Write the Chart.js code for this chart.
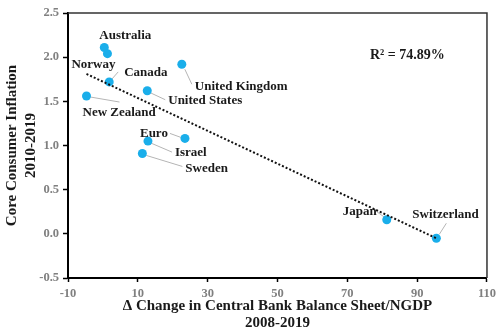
<!DOCTYPE html>
<html>
<head>
<meta charset="utf-8">
<script src="https://cdn.jsdelivr.net/npm/chart.js@4"></script>
<style>
    html, body { margin: 0; padding: 0; background: #fff; }
</style>
</head>
<body>
<canvas id="chart" width="500" height="332"></canvas>
<script>
// Balance-sheet growth vs. core inflation scatter with a linear trend

const COUNTRIES = ["Australia", "Norway", "Canada", "New Zealand", "United States",
    "United Kingdom", "Euro", "Israel", "Sweden", "Japan", "Switzerland"];
const BS_CHANGE = [0.4, 1.3, 1.8, -4.7, 12.7, 22.6, 23.5, 12.9, 11.3, 81.3, 95.5];
const CORE_INFL = [2.11, 2.04, 1.72, 1.56, 1.62, 1.92, 1.08, 1.05, 0.91, 0.16, -0.05];

// fitted line end points
const TREND_X = [-4.7, 95.5];
const TREND_Y = [1.81, -0.05];

const X_TICKS = [-10, 10, 30, 50, 70, 90, 110];
const Y_TICKS = [-0.5, 0.0, 0.5, 1.0, 1.5, 2.0, 2.5];

const R2_TEXT = "R\u00B2 = 74.89%";
const R2_AT = { x: 76.5, y: 2.02 };

// label placement in px relative to each point: [dx, dy] of text left/middle
const LABEL_OFFSET = [
    [-5, -12], [-36, 11], [15, -9], [-4, 17], [21, 10],
    [13, 22], [-45, -5], [27, 12], [43, 15], [-44, -8], [-24, -24]
];
// leader lines in px relative to each point, null = none
const LEADER = [
    null, null, [2, -2, 9, -10], [4, 1, 33, 6], [3, 2, 18, 9],
    [3, 5, 10, 20], [-4, -1, -15, -5], [3, 2, 24, 11], [4, 2, 40, 13],
    [-3, -3, -10, -8], [3, -4, 10, -15]
];

const SERIF = "'Liberation Serif', 'DejaVu Serif', serif";
const DOT_BLUE = "#1aaeea";

const overlay = {
    id: "overlay",
    beforeDatasetsDraw(chart) {
        const { ctx, chartArea: a, scales: { x, y } } = chart;
        ctx.save();
        // top and right frame edges
        ctx.strokeStyle = "#333";
        ctx.lineWidth = 1.5;
        ctx.beginPath();
        ctx.moveTo(a.left, a.top);
        ctx.lineTo(a.right, a.top);
        ctx.lineTo(a.right, a.bottom);
        ctx.stroke();
        // leader lines
        ctx.strokeStyle = "#b5b5b5";
        ctx.lineWidth = 1;
        LEADER.forEach((l, i) => {
            if (!l) return;
            const px = x.getPixelForValue(BS_CHANGE[i]);
            const py = y.getPixelForValue(CORE_INFL[i]);
            ctx.beginPath();
            ctx.moveTo(px + l[0], py + l[1]);
            ctx.lineTo(px + l[2], py + l[3]);
            ctx.stroke();
        });
        ctx.restore();
    },
    afterDatasetsDraw(chart) {
        const { ctx, scales: { x, y } } = chart;
        ctx.save();
        ctx.fillStyle = "#1a1a1a";
        ctx.textBaseline = "middle";
        ctx.textAlign = "left";
        ctx.font = "bold 13px " + SERIF;
        COUNTRIES.forEach((name, i) => {
            const px = x.getPixelForValue(BS_CHANGE[i]);
            const py = y.getPixelForValue(CORE_INFL[i]);
            ctx.fillText(name, px + LABEL_OFFSET[i][0], py + LABEL_OFFSET[i][1]);
        });
        ctx.font = "bold 14px " + SERIF;
        ctx.fillText(R2_TEXT, x.getPixelForValue(R2_AT.x), y.getPixelForValue(R2_AT.y));
        ctx.restore();
    }
};

new Chart(document.getElementById("chart"), {
    type: "scatter",
    data: {
        datasets: [
            {
                type: "line",
                data: TREND_X.map((v, i) => ({ x: v, y: TREND_Y[i] })),
                borderColor: "#111",
                borderWidth: 2,
                borderDash: [2, 2],
                pointRadius: 0,
                fill: false,
                order: 0
            },
            {
                data: BS_CHANGE.map((v, i) => ({ x: v, y: CORE_INFL[i] })),
                backgroundColor: DOT_BLUE,
                borderWidth: 0,
                pointRadius: 4.5,
                order: 1
            }
        ]
    },
    options: {
        responsive: false,
        animation: false,
        layout: { padding: { top: 13, right: 12, left: 0, bottom: 0 } },
        plugins: {
            legend: { display: false },
            tooltip: { enabled: false }
        },
        scales: {
            x: {
                type: "linear",
                min: -10,
                max: 110,
                afterBuildTicks: s => { s.ticks = X_TICKS.map(v => ({ value: v })); },
                afterFit: s => { s.height = 54; },
                ticks: {
                    color: "#808080",
                    font: { family: SERIF, size: 12.5, weight: "bold" },
                    padding: 4,
                    maxRotation: 0
                },
                grid: { drawOnChartArea: false, tickLength: 4, color: "#000", tickWidth: 1.5 },
                border: { color: "#000", width: 2 },
                title: {
                    display: true,
                    text: ["\u0394 Change in Central Bank Balance Sheet/NGDP", "2008-2019"],
                    color: "#1a1a1a",
                    font: { family: SERIF, size: 15, weight: "bold", lineHeight: "17px" },
                    padding: { top: 0, bottom: 0 }
                }
            },
            y: {
                type: "linear",
                min: -0.5,
                max: 2.5,
                afterBuildTicks: s => { s.ticks = Y_TICKS.map(v => ({ value: v })); },
                afterFit: s => { s.width = 68; },
                ticks: {
                    color: "#808080",
                    font: { family: SERIF, size: 12.5, weight: "bold" },
                    padding: 4,
                    callback: v => v.toFixed(1)
                },
                grid: { drawOnChartArea: false, tickLength: 5, color: "#000", tickWidth: 1.5 },
                border: { color: "#000", width: 2 },
                title: {
                    display: true,
                    text: ["Core Consumer Inflation", "2010-2019"],
                    color: "#1a1a1a",
                    font: { family: SERIF, size: 15, weight: "bold", lineHeight: "19px" },
                    padding: { top: 3, bottom: 0 }
                }
            }
        }
    },
    plugins: [overlay]
});
</script>
</body>
</html>
